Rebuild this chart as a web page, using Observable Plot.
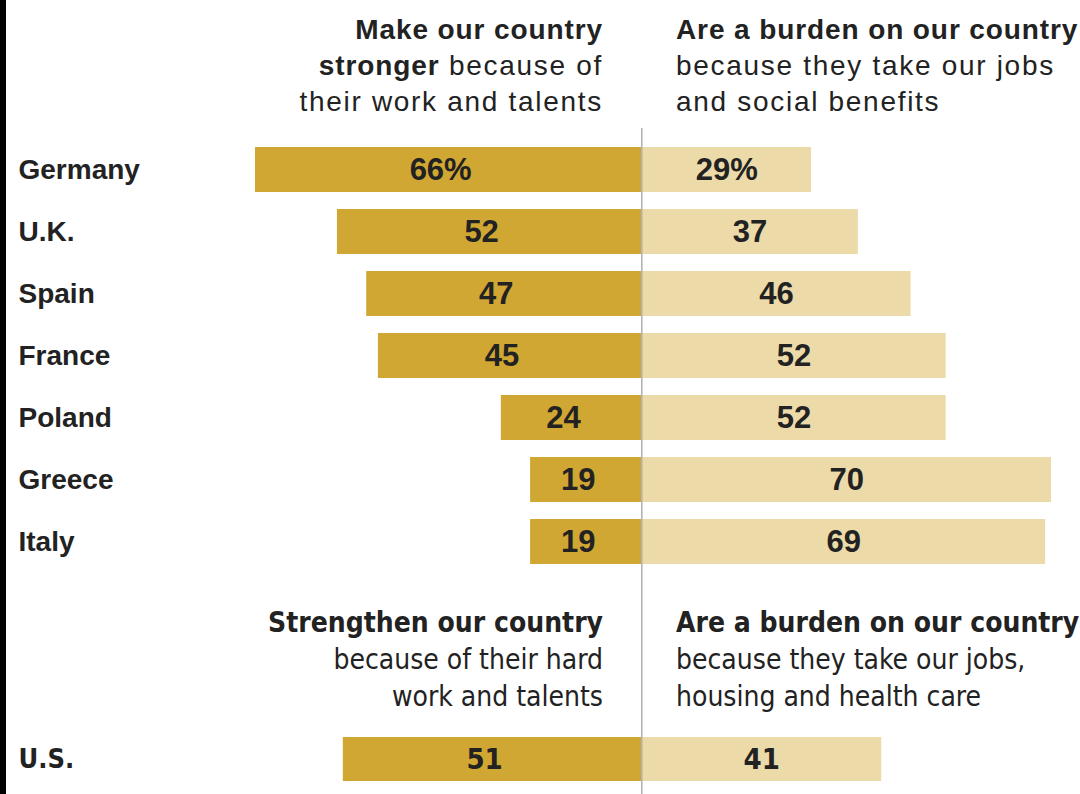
<!DOCTYPE html>
<html>
<head>
<meta charset="utf-8">
<script src="https://cdn.jsdelivr.net/npm/d3@7"></script>
<script src="https://cdn.jsdelivr.net/npm/@observablehq/plot@0.6"></script>
<style>
  html, body { margin: 0; padding: 0; background: #fff; }
  .wrap { position: relative; width: 1080px; height: 794px; overflow: hidden; background: #fff; }
  .wrap::before { content: ""; position: absolute; left: 0; top: 0; bottom: 0; width: 6px; background: #000; z-index: 5; }
  .head { position: relative; height: 128px; font-family: "Liberation Sans", Arial, sans-serif; font-size: 28px; line-height: 36px; color: #222; letter-spacing: 1.7px; }
  .head b { letter-spacing: 0.9px; }
  .col { position: absolute; top: 12px; white-space: nowrap; }
  .col.l { right: 477px; text-align: right; }
  .col.r { left: 676px; text-align: left; }
  b { font-weight: 700; }
  #b { position: relative; }
  .head2 { position: absolute; top: 0; left: 0; width: 1080px; height: 150px; font-family: "Liberation Sans Narrow", "DejaVu Sans Condensed", sans-serif; font-stretch: condensed; font-size: 28px; line-height: 37px; color: #222; }
  .head2 .col { top: 22px; }
  svg { display: block; }
</style>
</head>
<body>
<div class="wrap">
  <div class="head">
    <div class="col l"><b>Make our country</b><br><b>stronger</b> because of<br>their work and talents</div>
    <div class="col r"><b>Are a burden on our country</b><br>because they take our jobs<br>and social benefits</div>
  </div>
  <div id="a"></div>
  <div id="b">
    <div class="head2">
      <div class="col l"><b>Strengthen our country</b><br>because of their hard<br>work and talents</div>
      <div class="col r"><b>Are a burden on our country</b><br>because they take our jobs,<br>housing and health care</div>
    </div>
  </div>
</div>
<script>
const countries = ["Germany", "U.K.", "Spain", "France", "Poland", "Greece", "Italy"];
const strengthen = [66, 52, 47, 45, 24, 19, 19];
const burden = [29, 37, 46, 52, 52, 70, 69];
const strengthenLabels = ["66%", "52", "47", "45", "24", "19", "19"];
const burdenLabels = ["29%", "37", "46", "52", "52", "70", "69"];

const usCountry = ["U.S."];
const usStrengthen = [51];
const usBurden = [41];
const usStrengthenLabels = ["51"];
const usBurdenLabels = ["41"];

const darkGold = "#d1a733";
const lightGold = "#ecdba8";
const xDomain = [-66, 70];

function rows(names, s, b, sl, bl) {
  return names.map((c, i) => ({country: c, s: s[i], b: b[i], sl: sl[i], bl: bl[i]}));
}

function chart(data, opts) {
  return Plot.plot({
    width: 1080,
    height: opts.height,
    marginTop: opts.marginTop,
    marginBottom: opts.marginBottom,
    marginLeft: 255,
    marginRight: 29,
    style: {fontFamily: opts.font, color: "#222", background: "#fff", fontStretch: opts.stretch || "normal"},
    x: {domain: xDomain, axis: null},
    y: {domain: data.map(d => d.country), padding: opts.padding, axis: null},
    marks: [
      Plot.barX(data, {x1: 0, x2: d => -d.s, y: "country", fill: darkGold}),
      Plot.barX(data, {x1: 0, x2: "b", y: "country", fill: lightGold}),
      Plot.ruleX([0], {stroke: "#b4b4b4", strokeWidth: 1.6, insetTop: -opts.marginTop, insetBottom: -opts.marginBottom}),
      Plot.text(data, {x: d => -d.s / 2, y: "country", text: "sl", fontSize: opts.valueSize, fontWeight: "bold", fill: "#222", dx: -8, letterSpacing: opts.valueSpacing}),
      Plot.text(data, {x: d => d.b / 2, y: "country", text: "bl", fontSize: opts.valueSize, fontWeight: "bold", fill: "#222", letterSpacing: opts.valueSpacing}),
      Plot.text(data, {y: "country", text: "country", frameAnchor: "left", textAnchor: "start", dx: -237, fontSize: opts.labelSize, fontWeight: "bold", fill: "#222", letterSpacing: opts.labelSpacing})
    ]
  });
}

document.getElementById("a").appendChild(chart(rows(countries, strengthen, burden, strengthenLabels, burdenLabels), {
  height: 454, marginTop: 1, marginBottom: 0, padding: 0.28,
  font: "'Liberation Sans', Arial, sans-serif", valueSize: 31, labelSize: 28,
  valueSpacing: "0.5px", labelSpacing: "1.1px"
}));

document.getElementById("b").appendChild(chart(rows(usCountry, usStrengthen, usBurden, usStrengthenLabels, usBurdenLabels), {
  height: 212, marginTop: 155, marginBottom: 13, padding: 0,
  font: "'Liberation Sans Narrow', 'DejaVu Sans Condensed', sans-serif", stretch: "condensed", valueSize: 29, labelSize: 27,
  valueSpacing: "0px", labelSpacing: "0px"
}));
</script>
</body>
</html>
